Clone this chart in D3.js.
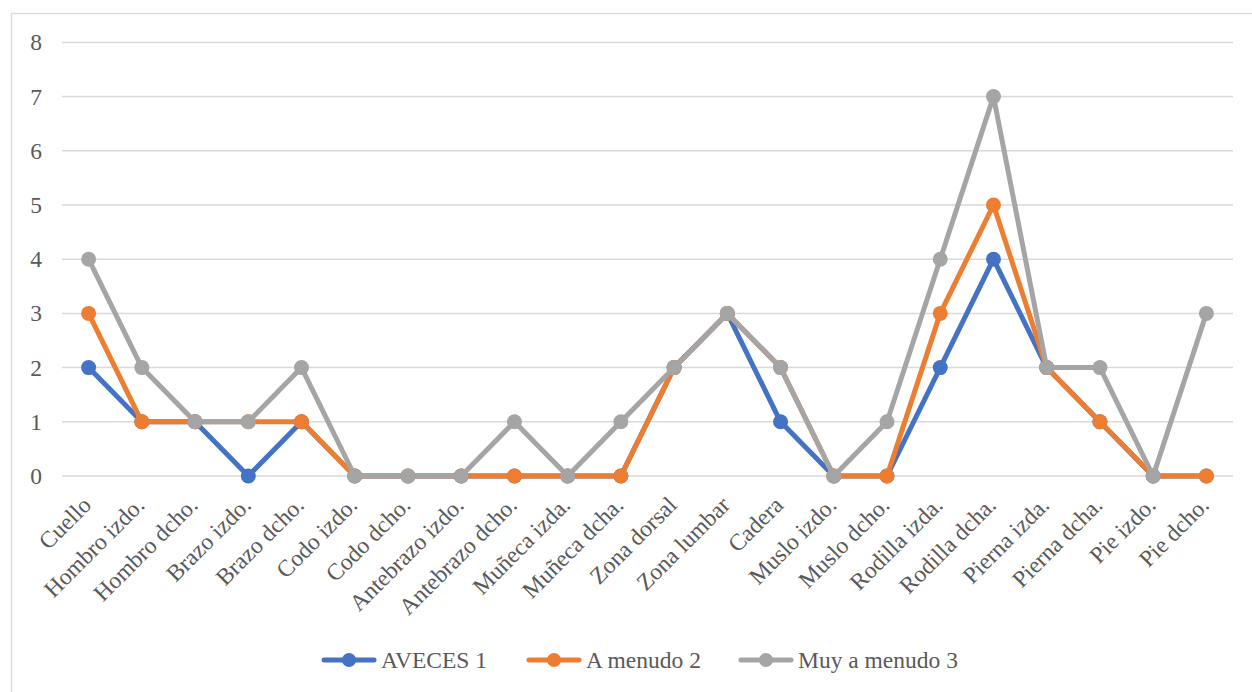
<!DOCTYPE html>
<html>
<head>
<meta charset="utf-8">
<script src="https://cdn.jsdelivr.net/npm/d3@7"></script>
<style>
  html, body { margin: 0; padding: 0; background: #fff; }
  svg { display: block; }
</style>
</head>
<body>
<svg id="chart" width="1252" height="692"></svg>
<script>
// Body regions surveyed
const categories = [
  "Cuello", "Hombro izdo.", "Hombro dcho.", "Brazo izdo.", "Brazo dcho.",
  "Codo izdo.", "Codo dcho.", "Antebrazo izdo.", "Antebrazo dcho.",
  "Muñeca izda.", "Muñeca dcha.", "Zona dorsal", "Zona lumbar", "Cadera",
  "Muslo izdo.", "Muslo dcho.", "Rodilla izda.", "Rodilla dcha.",
  "Pierna izda.", "Pierna dcha.", "Pie izdo.", "Pie dcho."
];

// Counts per frequency level
const aveces1     = [2, 1, 1, 0, 1, 0, 0, 0, 0, 0, 0, 2, 3, 1, 0, 0, 2, 4, 2, 1, 0, 0];
const aMenudo2    = [3, 1, 1, 1, 1, 0, 0, 0, 0, 0, 0, 2, 3, 2, 0, 0, 3, 5, 2, 1, 0, 0];
const muyAMenudo3 = [4, 2, 1, 1, 2, 0, 0, 0, 1, 0, 1, 2, 3, 2, 0, 1, 4, 7, 2, 2, 0, 3];

const seriesNames  = ["AVECES 1", "A menudo 2", "Muy a menudo 3"];
const seriesColors = ["#4472C4", "#ED7D31", "#A5A5A5"];
const yTicks = [0, 1, 2, 3, 4, 5, 6, 7, 8];

const series = [aveces1, aMenudo2, muyAMenudo3].map((values, i) => ({
  name: seriesNames[i], color: seriesColors[i], values
}));

const FONT = "Liberation Serif";
const FONT_SIZE = 23.5;
const TEXT_COLOR = "#595959";

const svg = d3.select("#chart");

// Chart frame
svg.append("rect")
  .attr("x", 11.5).attr("y", 13.5)
  .attr("width", 1260).attr("height", 700)
  .attr("fill", "#fff").attr("stroke", "#d9d9d9").attr("stroke-width", 1.3);

const plot = { left: 62, right: 1233, top: 42.4, bottom: 476 };

const x = d3.scaleBand().domain(categories).range([plot.left, plot.right]);
const y = d3.scaleLinear().domain([0, 8]).range([plot.bottom, plot.top]);
const cx = c => x(c) + x.bandwidth() / 2;

// Horizontal gridlines
svg.append("g")
  .selectAll("line")
  .data(yTicks)
  .join("line")
  .attr("x1", plot.left).attr("x2", plot.right)
  .attr("y1", d => y(d)).attr("y2", d => y(d))
  .attr("stroke", "#d9d9d9").attr("stroke-width", 1.5);

// Y axis labels
const yAxis = svg.append("g")
  .attr("transform", "translate(42,0)")
  .call(d3.axisLeft(y).tickValues(yTicks).tickSize(0).tickPadding(0).tickFormat(d3.format("d")));
yAxis.attr("font-family", FONT).attr("font-size", FONT_SIZE);
yAxis.select(".domain").remove();
yAxis.selectAll("text")
  .attr("fill", TEXT_COLOR)
  .attr("x", 0)
  .attr("dy", "0.32em");

// X axis labels, rotated 45 degrees and ending under each category
const xAxis = svg.append("g")
  .attr("transform", `translate(0,${plot.bottom})`)
  .call(d3.axisBottom(x).tickSize(0).tickPadding(0));
xAxis.attr("font-family", FONT).attr("font-size", FONT_SIZE);
xAxis.select(".domain").remove();
xAxis.selectAll("text")
  .attr("fill", TEXT_COLOR)
  .attr("text-anchor", "end")
  .attr("y", 0)
  .attr("dy", 0)
  .attr("transform", "translate(4,30.5) rotate(-45)");

// Lines and markers
const line = d3.line()
  .x((d, i) => cx(categories[i]))
  .y(d => y(d));

series.forEach(s => {
  const g = svg.append("g");
  g.append("path")
    .datum(s.values)
    .attr("d", line)
    .attr("fill", "none")
    .attr("stroke", s.color)
    .attr("stroke-width", 5)
    .attr("stroke-linejoin", "round");
  g.selectAll("circle")
    .data(s.values)
    .join("circle")
    .attr("cx", (d, i) => cx(categories[i]))
    .attr("cy", d => y(d))
    .attr("r", 7.5)
    .attr("fill", s.color);
});

// Legend
const legendStarts = [324, 529, 741];
const legendY = 660;
const lg = svg.append("g").attr("font-family", FONT).attr("font-size", FONT_SIZE);
series.forEach((s, i) => {
  const lx = legendStarts[i];
  lg.append("line")
    .attr("x1", lx).attr("x2", lx + 50)
    .attr("y1", legendY).attr("y2", legendY)
    .attr("stroke", s.color).attr("stroke-width", 5)
    .attr("stroke-linecap", "round");
  lg.append("circle")
    .attr("cx", lx + 25).attr("cy", legendY).attr("r", 7)
    .attr("fill", s.color);
  lg.append("text")
    .attr("x", lx + 57).attr("y", legendY)
    .attr("dy", "0.34em")
    .attr("fill", TEXT_COLOR)
    .text(s.name);
});
</script>
</body>
</html>
